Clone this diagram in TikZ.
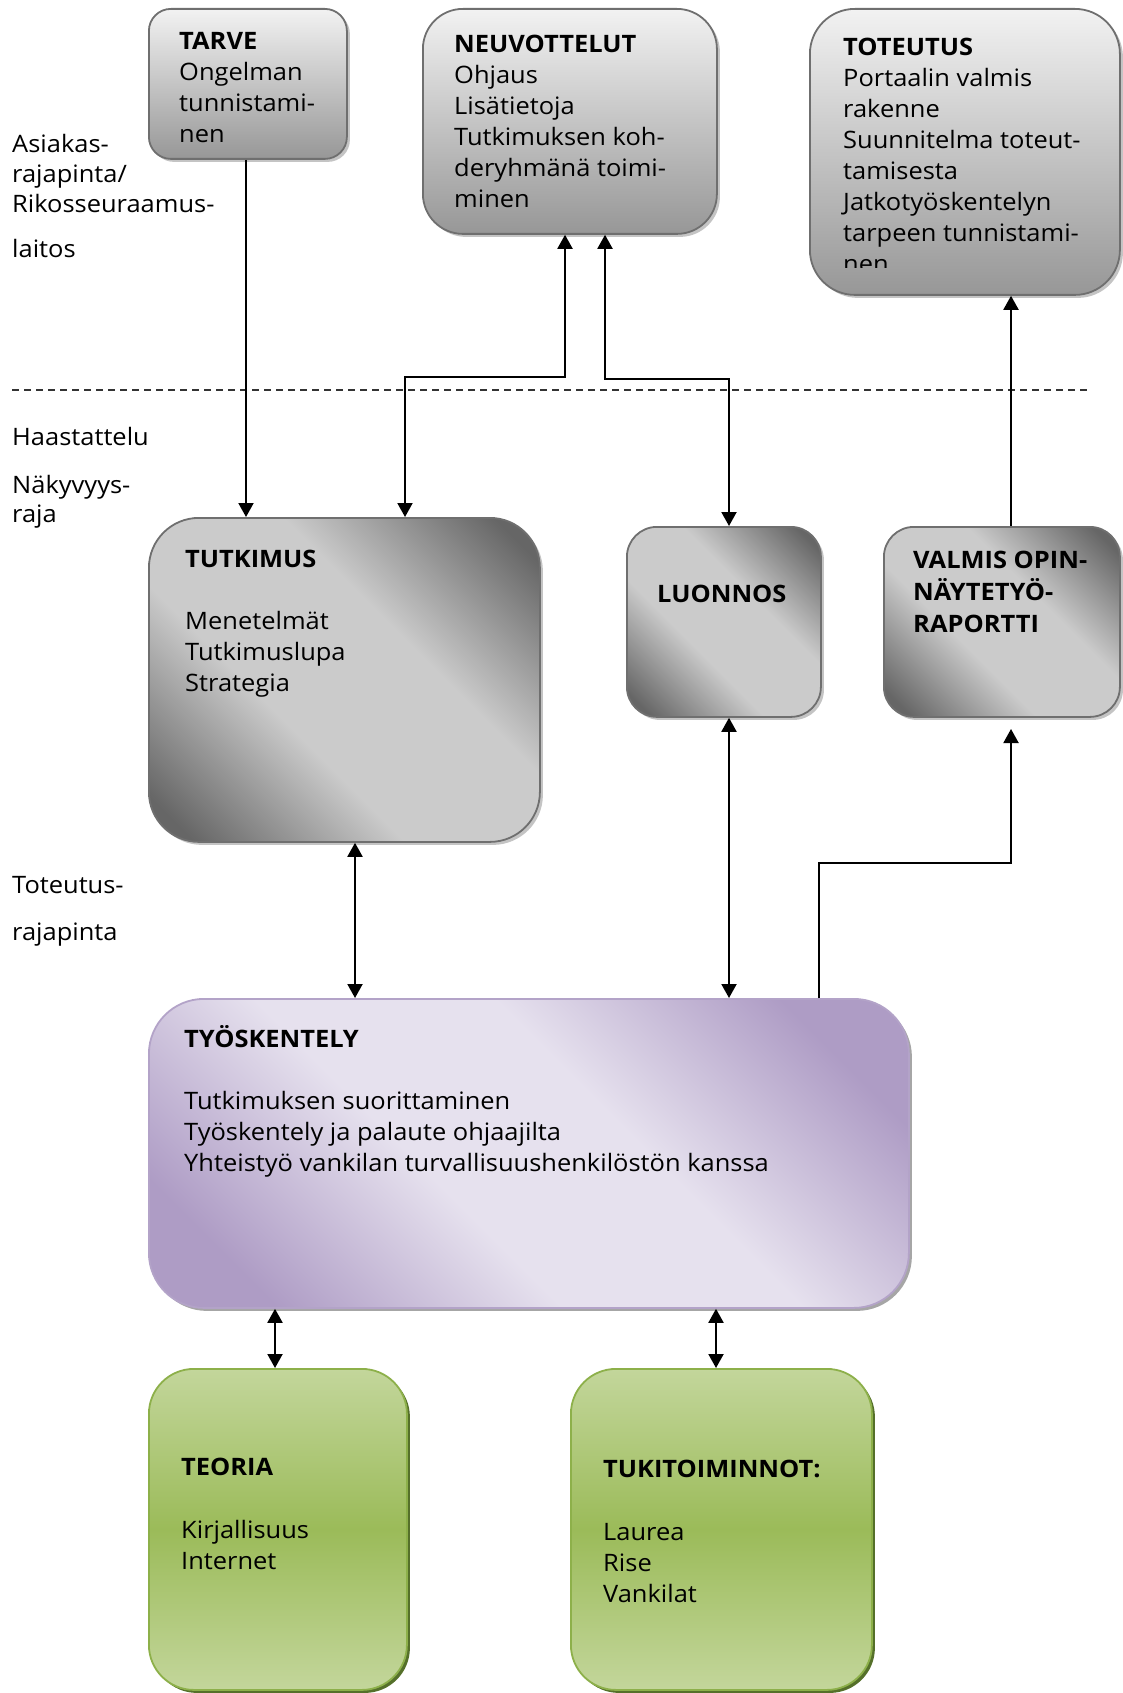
\documentclass[tikz,border=0pt]{standalone}
\usepackage{fontspec}
\setmainfont{Open Sans}[FakeStretch=1.06]
\usetikzlibrary{arrows.meta,shadows,calc}
\definecolor{boxline}{HTML}{6F6F6F}
\definecolor{gtop}{HTML}{F2F2F2}
\definecolor{gbot}{HTML}{979797}
\definecolor{gdark}{HTML}{666666}
\definecolor{glight}{HTML}{CBCBCB}
\definecolor{pdark}{HTML}{AE9CC5}
\definecolor{plight}{HTML}{E6E1EE}
\definecolor{pline}{HTML}{B3A3C8}
\definecolor{grlight}{HTML}{C3D69B}
\definecolor{grmid}{HTML}{9BBB59}
\definecolor{grline}{HTML}{8DB04A}
\definecolor{grshadow}{HTML}{55702A}
\definecolor{shgray}{HTML}{C4C4C4}
\definecolor{dashcol}{HTML}{333333}
\pgfdeclareverticalshading{graydiag}{100bp}{color(0bp)=(gdark); color(19bp)=(gdark); color(40bp)=(glight); color(60bp)=(glight); color(81bp)=(gdark); color(100bp)=(gdark)}
\pgfdeclareverticalshading{purpdiag}{100bp}{color(0bp)=(pdark); color(23bp)=(pdark); color(42bp)=(plight); color(58bp)=(plight); color(77bp)=(pdark); color(100bp)=(pdark)}
\newcommand{\mylines}[1]{\begin{tabular}[t]{@{}l@{}}#1\end{tabular}}
\begin{document}
\begin{tikzpicture}[x=1pt,y=-1pt,font=\fontsize{24}{31}\selectfont,
  boxbase/.style={line width=1.8pt,inner sep=0pt,anchor=north west},
  vgray/.style={boxbase,draw=boxline,top color=gtop,bottom color=gbot,
    drop shadow={shadow xshift=3pt,shadow yshift=-3pt,fill=shgray,opacity=1}},
  dgray/.style={boxbase,draw=boxline,shading=graydiag,shading angle=-45,
    drop shadow={shadow xshift=3pt,shadow yshift=-3pt,fill=shgray,opacity=1}},
  purplebox/.style={boxbase,draw=pline,shading=purpdiag,shading angle=-45,
    drop shadow={shadow xshift=3pt,shadow yshift=-3pt,fill=black!35,opacity=1}},
  greenbox/.style={boxbase,draw=grline,top color=grlight,bottom color=grlight,middle color=grmid,
    drop shadow={shadow xshift=3pt,shadow yshift=-3pt,fill=grshadow,opacity=1}},
  txt/.style={anchor=base west,inner sep=0pt},
  conn/.style={line width=2pt,black},
  tip/.tip={Triangle[length=14pt,width=15pt]},
  dashline/.style={line width=1.3pt,dashcol,dash pattern=on 7pt off 5pt}
]
\useasboundingbox (0,0) rectangle (1122,1693);

% boxes
\node[vgray,rounded corners=22pt,minimum width=198pt,minimum height=150pt] (tarve) at (148,8) {};
\node[vgray,rounded corners=40pt,minimum width=294pt,minimum height=225pt] (neuv) at (422,8) {};
\node[vgray,rounded corners=45pt,minimum width=310pt,minimum height=286pt] (tote) at (809,8) {};
\node[dgray,rounded corners=50pt,minimum width=391pt,minimum height=324pt] (tutk) at (148,517) {};
\node[dgray,rounded corners=30pt,minimum width=194pt,minimum height=190pt] (luon) at (626,526) {};
\node[dgray,rounded corners=30pt,minimum width=236pt,minimum height=190pt] (valm) at (883,526) {};
\node[purplebox,rounded corners=55pt,minimum width=760pt,minimum height=309pt] (tyo) at (148,998) {};
\node[greenbox,rounded corners=45pt,minimum width=258pt,minimum height=321pt] (teor) at (148,1368) {};
\node[greenbox,rounded corners=45pt,minimum width=301pt,minimum height=321pt] (tuki) at (570,1368) {};

% texts in boxes
\node[txt] (tarveT) at (179,50) {\mylines{\textbf{TARVE}\\Ongelman\\tunnistami-\\nen}};
\node[txt] (neuvT) at (454,53) {\mylines{\textbf{NEUVOTTELUT}\\Ohjaus\\Lisätietoja\\Tutkimuksen koh-\\deryhmänä toimi-\\minen}};
\begin{scope}
\clip (809,8) rectangle (1120,268);
\node[txt] (toteT) at (843,56) {\mylines{\textbf{TOTEUTUS}\\Portaalin valmis\\rakenne\\Suunnitelma toteut-\\tamisesta\\Jatkotyöskentelyn\\tarpeen tunnistami-\\nen}};
\end{scope}
\node[txt] (tutkT) at (185,567) {\mylines{\textbf{TUTKIMUS}\\[31pt]Menetelmät\\Tutkimuslupa\\Strategia}};
\node[txt] (luonT) at (657,602) {\textbf{LUONNOS}};
\node[txt,font=\fontsize{24}{32}\selectfont] (valmT) at (913,568) {\mylines{\textbf{VALMIS OPIN-}\\\textbf{NÄYTETYÖ-}\\\textbf{RAPORTTI}}};
\node[txt] (tyoT) at (184,1047) {\mylines{\textbf{TYÖSKENTELY}\\[31pt]Tutkimuksen suorittaminen\\Työskentely ja palaute ohjaajilta\\Yhteistyö vankilan turvallisuushenkilöstön kanssa}};
\node[txt] (teorT) at (181,1475) {\mylines{\textbf{TEORIA}\\[32pt]Kirjallisuus\\Internet}};
\node[txt] (tukiT) at (603,1477) {\mylines{\textbf{TUKITOIMINNOT:}\\[32pt]Laurea\\Rise\\Vankilat}};

% side labels
\node[txt,font=\fontsize{24}{30}\selectfont] (labA) at (12,153) {\mylines{Asiakas-\\rajapinta/\\Rikosseuraamus-}};
\node[txt] (labB) at (12,258) {laitos};
\node[txt] (labC) at (12,445) {Haastattelu};
\node[txt,font=\fontsize{24}{29}\selectfont] (labD) at (12,493) {\mylines{Näkyvyys-\\raja}};
\node[txt] (labE) at (12,893) {Toteutus-};
\node[txt] (labF) at (12,940) {rajapinta};

% dashed boundary
\coordinate (d1) at (12,390);
\coordinate (d2) at (1087,390);
\draw[dashline] (d1) -- (d2);

% connector helpers
\coordinate (x246) at (246,0);
\coordinate (x1011) at (1011,0);
\coordinate (x355) at (355,0);
\coordinate (x729) at (729,0);
\coordinate (x275) at (275,0);
\coordinate (x716) at (716,0);
\coordinate (x405) at (405,0);
\coordinate (x605) at (605,0);
\coordinate (x819) at (819,0);
\coordinate (j1) at (565,377);
\coordinate (j2) at (729,379);
\coordinate (j3) at (1011,863);
\coordinate (vend) at (1011,729);

% connectors
\draw[conn,-tip] (tarve.south -| x246) -- (tutk.north -| x246);
\draw[conn,tip-tip] (tutk.north -| x405) |- (j1) -- (neuv.south -| j1);
\draw[conn,tip-tip] (neuv.south -| x605) |- (j2) -- (luon.north -| j2);
\draw[conn,-tip] (valm.north -| x1011) -- (tote.south -| x1011);
\draw[conn,tip-tip] (tutk.south -| x355) -- (tyo.north -| x355);
\draw[conn,tip-tip] (luon.south -| x729) -- (tyo.north -| x729);
\draw[conn,-tip] (tyo.north -| x819) |- (j3) -- (vend);
\draw[conn,tip-tip] (tyo.south -| x275) -- (teor.north -| x275);
\draw[conn,tip-tip] (tyo.south -| x716) -- (tuki.north -| x716);
\end{tikzpicture}
\end{document}
